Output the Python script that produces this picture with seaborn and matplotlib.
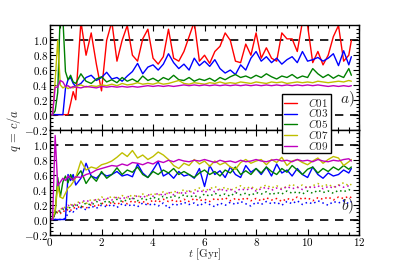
import numpy as np
import pandas as pd
import matplotlib
matplotlib.use('Agg')
import matplotlib.pyplot as plt
import seaborn as sns
from matplotlib.ticker import MultipleLocator

# time grid [Gyr]
t = [0.0, 0.1, 0.2, 0.3, 0.4, 0.5, 0.6, 0.7, 0.8, 0.9, 1.0,
     1.2, 1.4, 1.6, 1.8, 2.0, 2.2, 2.4, 2.6, 2.8, 3.0,
     3.2, 3.4, 3.6, 3.8, 4.0, 4.2, 4.4, 4.6, 4.8, 5.0,
     5.2, 5.4, 5.6, 5.8, 6.0, 6.2, 6.4, 6.6, 6.8, 7.0,
     7.2, 7.4, 7.6, 7.8, 8.0, 8.2, 8.4, 8.6, 8.8, 9.0,
     9.2, 9.4, 9.6, 9.8, 10.0, 10.2, 10.4, 10.6, 10.8, 11.0,
     11.2, 11.4, 11.6, 11.7]

labels = ['C01', 'C03', 'C05', 'C07', 'C09']
colors = ['#ff0000', '#0000ff', '#008000', '#bfbf00', '#bf00bf']

# panel a)
top_c01 = [0, 0, 0, 0, 0, 0, 0, 0, 0.15, 0.31, 0.2,
           1.25, 0.8, 1.1, 0.68, 0.32, 1.0, 1.25, 0.72, 1.0, 1.2,
           0.8, 0.72, 1.02, 1.15, 0.76, 0.68, 0.78, 1.15, 0.76, 0.72,
           0.85, 1.05, 1.25, 0.72, 0.8, 0.69, 0.85, 0.92, 1.1, 1.0,
           0.72, 0.7, 0.95, 0.8, 1.1, 0.76, 0.9, 0.76, 0.72, 1.1,
           1.02, 1.02, 0.85, 1.25, 1.2, 0.7, 0.85, 0.67, 0.8, 1.05,
           1.2, 0.72, 0.8, 1.0]
top_c03 = [0, 0, 0, 0, 0, 0, 0.35, 0.47, 0.5, 0.42, 0.38,
           0.42, 0.5, 0.53, 0.46, 0.5, 0.57, 0.48, 0.5, 0.45, 0.52,
           0.58, 0.69, 0.55, 0.64, 0.67, 0.6, 0.68, 0.82, 0.7, 0.62,
           0.68, 0.6, 0.76, 0.66, 0.72, 0.65, 0.74, 0.62, 0.56, 0.6,
           0.54, 0.67, 0.6, 0.76, 0.85, 0.72, 0.78, 0.7, 0.76, 0.68,
           0.74, 0.78, 0.7, 0.85, 0.72, 0.74, 0.77, 0.72, 0.76, 0.82,
           0.66, 0.86, 0.67, 0.78]
top_c05 = [0, 0, 0.05, 0.3, 1.4, 1.3, 0.58, 0.47, 0.53, 0.44, 0.42,
           0.55, 0.45, 0.42, 0.48, 0.51, 0.44, 0.47, 0.43, 0.5, 0.45,
           0.48, 0.44, 0.52, 0.46, 0.49, 0.45, 0.5, 0.47, 0.53, 0.47,
           0.46, 0.5, 0.45, 0.48, 0.46, 0.49, 0.45, 0.5, 0.47, 0.51,
           0.54, 0.5, 0.52, 0.49, 0.53, 0.5, 0.55, 0.51, 0.48, 0.52,
           0.5, 0.54, 0.49, 0.52, 0.5, 0.62, 0.55, 0.5, 0.54, 0.49,
           0.53, 0.5, 0.62, 0.53]
top_c07 = [0, 0, 0.45, 1.0, 0.4, 0.36, 0.38, 0.35, 0.37, 0.36, 0.38,
           0.4, 0.37, 0.39, 0.38, 0.4, 0.39, 0.41, 0.39, 0.42, 0.4,
           0.41, 0.43, 0.41, 0.42, 0.41, 0.43, 0.41, 0.42, 0.44, 0.46,
           0.42, 0.41, 0.43, 0.42, 0.41, 0.43, 0.42, 0.44, 0.42, 0.43,
           0.42, 0.44, 0.43, 0.42, 0.44, 0.43, 0.42, 0.44, 0.43, 0.44,
           0.42, 0.43, 0.44, 0.43, 0.44, 0.43, 0.45, 0.44, 0.43, 0.44,
           0.45, 0.44, 0.46, 0.45]
top_c09 = [0, 0, 0.37, 0.37, 0.46, 0.44, 0.38, 0.39, 0.36, 0.38, 0.37,
           0.36, 0.38, 0.37, 0.36, 0.38, 0.37, 0.38, 0.37, 0.38, 0.37,
           0.38, 0.37, 0.38, 0.39, 0.38, 0.39, 0.38, 0.39, 0.38, 0.39,
           0.4, 0.39, 0.4, 0.39, 0.4, 0.39, 0.4, 0.39, 0.4, 0.39,
           0.4, 0.39, 0.4, 0.39, 0.4, 0.39, 0.4, 0.39, 0.4, 0.39,
           0.4, 0.39, 0.4, 0.39, 0.4, 0.39, 0.4, 0.39, 0.38, 0.39,
           0.38, 0.39, 0.38, 0.39]

# panel b) solid
bot_c03 = [0, 0, 0, 0, 0, 0, 0, 0.6, 0.52, 0.6, 0.46,
           0.55, 0.75, 0.58, 0.55, 0.62, 0.58, 0.6, 0.64, 0.58, 0.6,
           0.57, 0.74, 0.62, 0.56, 0.66, 0.77, 0.58, 0.62, 0.55, 0.64,
           0.58, 0.6, 0.55, 0.68, 0.44, 0.72, 0.6, 0.65, 0.56, 0.7,
           0.6, 0.56, 0.72, 0.63, 0.68, 0.6, 0.7, 0.58, 0.74, 0.62,
           0.66, 0.58, 0.68, 0.6, 0.56, 0.7, 0.6, 0.55, 0.62, 0.58,
           0.6, 0.66, 0.62, 0.68]
bot_c05 = [0, 0, 0.08, 0.56, 0.3, 0.5, 0.58, 0.49, 0.6, 0.52, 0.56,
           0.65, 0.48, 0.58, 0.51, 0.64, 0.55, 0.6, 0.69, 0.6, 0.66,
           0.63, 0.7, 0.6, 0.56, 0.64, 0.6, 0.66, 0.62, 0.68, 0.6,
           0.64, 0.6, 0.56, 0.62, 0.66, 0.6, 0.64, 0.58, 0.66, 0.62,
           0.7, 0.6, 0.65, 0.6, 0.68, 0.62, 0.7, 0.64, 0.6, 0.68,
           0.63, 0.72, 0.66, 0.6, 0.67, 0.7, 0.62, 0.68, 0.64, 0.7,
           0.66, 0.72, 0.67, 0.7]
bot_c07 = [0, 0, 0.12, 0.45, 0.3, 0.28, 0.35, 0.42, 0.45, 0.5, 0.56,
           0.78, 0.66, 0.7, 0.68, 0.73, 0.75, 0.78, 0.83, 0.89, 0.84,
           0.92, 0.82, 0.86, 0.8, 0.84, 0.9, 0.86, 0.8, 0.72, 0.68,
           0.75, 0.72, 0.8, 0.74, 0.78, 0.71, 0.78, 0.73, 0.76, 0.7,
           0.67, 0.76, 0.8, 0.75, 0.78, 0.8, 0.73, 0.8, 0.76, 0.83,
           0.72, 0.78, 0.8, 0.76, 0.73, 0.78, 0.82, 0.75, 0.8, 0.84,
           0.82, 0.72, 0.77, 0.8]
bot_c09 = [0, 0, 1.12, 0.45, 0.5, 0.55, 0.52, 0.58, 0.55, 0.53, 0.57,
           0.56, 0.6, 0.62, 0.66, 0.68, 0.7, 0.72, 0.71, 0.74, 0.72,
           0.76, 0.75, 0.73, 0.76, 0.74, 0.78, 0.76, 0.79, 0.77, 0.8,
           0.78, 0.77, 0.79, 0.78, 0.8, 0.78, 0.76, 0.79, 0.77, 0.78,
           0.76, 0.79, 0.77, 0.78, 0.8, 0.78, 0.77, 0.79, 0.8, 0.78,
           0.79, 0.77, 0.8, 0.78, 0.79, 0.77, 0.8, 0.78, 0.77, 0.79,
           0.78, 0.8, 0.81, 0.78]

# panel b) dotted
dot_c01 = [0, 0.02, 0.06, 0.1, 0.08, 0.12, 0.1, 0.14, 0.12, 0.16, 0.15,
           0.18, 0.15, 0.2, 0.17, 0.22, 0.19, 0.23, 0.2, 0.24, 0.21,
           0.25, 0.22, 0.24, 0.21, 0.26, 0.23, 0.27, 0.24, 0.26, 0.23,
           0.27, 0.24, 0.28, 0.25, 0.27, 0.24, 0.28, 0.26, 0.29, 0.25,
           0.28, 0.26, 0.29, 0.25, 0.28, 0.25, 0.29, 0.26, 0.28, 0.24,
           0.28, 0.26, 0.3, 0.27, 0.29, 0.25, 0.29, 0.27, 0.3, 0.26,
           0.3, 0.28, 0.31, 0.29]
dot_c03 = [0, 0, 0, 0, 0, 0, 0.02, 0.08, 0.12, 0.1, 0.14,
           0.16, 0.13, 0.18, 0.15, 0.19, 0.17, 0.2, 0.16, 0.21, 0.18,
           0.2, 0.17, 0.22, 0.19, 0.21, 0.18, 0.22, 0.15, 0.21, 0.19,
           0.23, 0.2, 0.22, 0.18, 0.23, 0.2, 0.17, 0.22, 0.19, 0.23,
           0.2, 0.24, 0.21, 0.18, 0.23, 0.2, 0.24, 0.21, 0.23, 0.19,
           0.24, 0.21, 0.25, 0.2, 0.23, 0.21, 0.25, 0.22, 0.19, 0.24,
           0.22, 0.25, 0.21, 0.24]
dot_c05 = [0, 0.03, 0.08, 0.12, 0.1, 0.14, 0.12, 0.17, 0.15, 0.18, 0.2,
           0.17, 0.22, 0.19, 0.24, 0.21, 0.25, 0.22, 0.27, 0.24, 0.26,
           0.29, 0.25, 0.28, 0.26, 0.3, 0.27, 0.31, 0.28, 0.32, 0.29,
           0.33, 0.3, 0.32, 0.29, 0.34, 0.31, 0.35, 0.32, 0.34, 0.31,
           0.36, 0.33, 0.35, 0.32, 0.36, 0.34, 0.37, 0.33, 0.36, 0.34,
           0.38, 0.35, 0.37, 0.34, 0.38, 0.35, 0.39, 0.36, 0.38, 0.35,
           0.39, 0.37, 0.4, 0.38]
dot_c07 = [0, 0.05, 0.12, 0.1, 0.15, 0.13, 0.18, 0.16, 0.2, 0.18, 0.22,
           0.24, 0.21, 0.27, 0.25, 0.3, 0.27, 0.31, 0.28, 0.32, 0.29,
           0.33, 0.3, 0.34, 0.31, 0.35, 0.32, 0.37, 0.34, 0.38, 0.35,
           0.4, 0.36, 0.39, 0.42, 0.38, 0.41, 0.44, 0.4, 0.43, 0.39,
           0.42, 0.45, 0.41, 0.44, 0.4, 0.43, 0.46, 0.42, 0.45, 0.41,
           0.44, 0.47, 0.43, 0.46, 0.42, 0.45, 0.48, 0.44, 0.47, 0.43,
           0.46, 0.49, 0.45, 0.47]
dot_c09 = [0, 0.04, 0.1, 0.13, 0.11, 0.16, 0.14, 0.19, 0.17, 0.21, 0.19,
           0.23, 0.26, 0.22, 0.27, 0.25, 0.29, 0.26, 0.3, 0.27, 0.31,
           0.28, 0.32, 0.29, 0.33, 0.31, 0.35, 0.32, 0.36, 0.33, 0.37,
           0.34, 0.38, 0.35, 0.39, 0.36, 0.4, 0.37, 0.41, 0.38, 0.4,
           0.37, 0.41, 0.39, 0.42, 0.38, 0.41, 0.43, 0.39, 0.42, 0.4,
           0.44, 0.41, 0.43, 0.4, 0.44, 0.42, 0.45, 0.41, 0.44, 0.42,
           0.46, 0.43, 0.45, 0.44]

top_series = [top_c01, top_c03, top_c05, top_c07, top_c09]
bot_series = [None, bot_c03, bot_c05, bot_c07, bot_c09]
dot_series = [dot_c01, dot_c03, dot_c05, dot_c07, dot_c09]

sns.set_theme(style='ticks')
plt.rcParams['font.family'] = ['serif']
plt.rcParams['font.serif'] = ['cmr10', 'DejaVu Serif']
plt.rcParams['mathtext.fontset'] = 'cm'
plt.rcParams['axes.formatter.use_mathtext'] = True
plt.rcParams['axes.unicode_minus'] = True

fig = plt.figure(figsize=(3.99, 2.61), dpi=100)
ax1 = fig.add_axes([0.1253, 0.5038, 0.7747, 0.3985])
ax2 = fig.add_axes([0.1253, 0.1015, 0.7747, 0.4023], sharex=ax1)

for name, vals, col in zip(labels, top_series, colors):
    sns.lineplot(x=t, y=vals, ax=ax1, color=col, lw=1.0, label=r'$' + name + '$')

for vals, col in zip(dot_series, colors):
    sns.lineplot(x=t, y=vals, ax=ax2, color=col, lw=1.1, linestyle=(0, (1, 2)))
for vals, col in zip(bot_series, colors):
    if vals is not None:
        sns.lineplot(x=t, y=vals, ax=ax2, color=col, lw=1.0)

for ax in (ax1, ax2):
    ax.axhline(1.0, color='black', lw=1.2, ls=(0, (5, 4)), zorder=0.5)
    ax.axhline(0.0, color='black', lw=1.2, ls=(0, (5, 4)), zorder=0.5)
    ax.set_xlim(0, 12)
    ax.set_ylim(-0.2, 1.2)
    ax.set_yticks([-0.2, 0.0, 0.2, 0.4, 0.6, 0.8, 1.0])
    ax.yaxis.set_minor_locator(MultipleLocator(0.05))
    ax.xaxis.set_major_locator(MultipleLocator(2))
    ax.xaxis.set_minor_locator(MultipleLocator(0.4))
    ax.tick_params(which='both', direction='in', top=True, right=True,
                   labelsize=8, colors='black', width=0.8, pad=1.2)
    ax.tick_params(which='major', length=4)
    ax.tick_params(which='minor', length=2)
    for sp in ax.spines.values():
        sp.set_color('black')
        sp.set_linewidth(1.0)
    ax.set_ylabel('')
    if ax.get_legend() is not None:
        ax.get_legend().remove()

ax1.tick_params(labelbottom=False)
ax1.text(0.985, 0.285, r'$a)$', transform=ax1.transAxes, ha='right', va='center', fontsize=11)
ax2.text(0.985, 0.27, r'$b)$', transform=ax2.transAxes, ha='right', va='center', fontsize=11)

ax2.set_xlabel(r'$t$ [Gyr]', fontsize=8, labelpad=-1.5)
fig.text(0.035, 0.502, r'$q\,=\,c/a$', rotation=90, ha='center', va='center', fontsize=9)

handles, _ = ax1.get_legend_handles_labels()
leg = fig.legend(handles, [r'$' + n + '$' for n in labels], loc='upper left',
                 bbox_to_anchor=(282 / 399, 1 - 94 / 261), fontsize=8,
                 frameon=True, fancybox=False, framealpha=1, edgecolor='black',
                 labelspacing=-0.2, handlelength=1.2, handletextpad=1.0,
                 borderpad=0.15, borderaxespad=0)
leg.get_frame().set_linewidth(1.0)

fig.savefig('out.png', dpi=100)
